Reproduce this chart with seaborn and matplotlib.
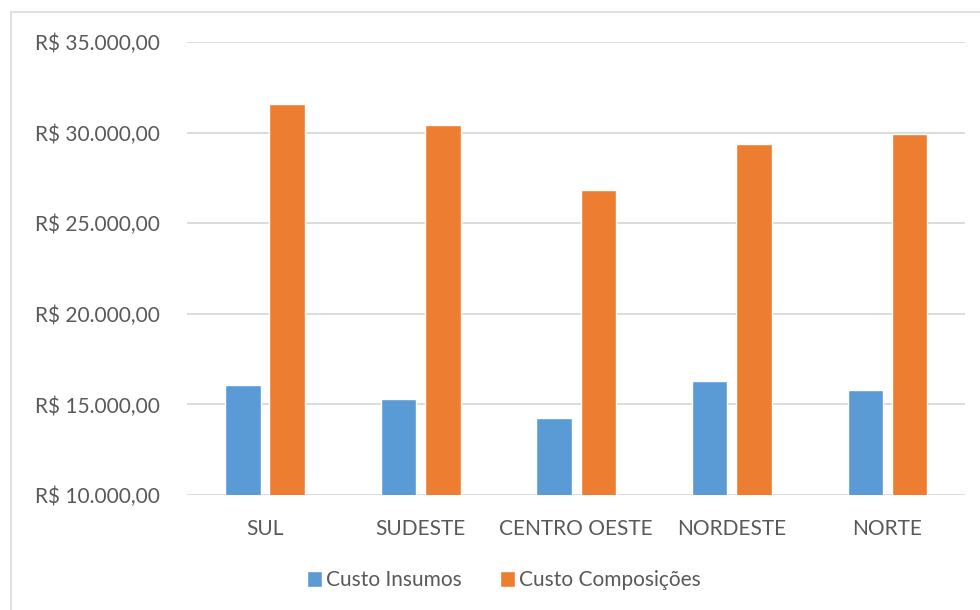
import pandas as pd
import numpy as np
import matplotlib.pyplot as plt
import seaborn as sns
from matplotlib.ticker import FuncFormatter
from matplotlib.patches import Rectangle

# data
regioes = ['SUL', 'SUDESTE', 'CENTRO OESTE', 'NORDESTE', 'NORTE']
custo_insumos = [16090, 15310, 14270, 16290, 15810]
custo_composicoes = [31570, 30410, 26840, 29360, 29930]
series = ['Custo Insumos', 'Custo Composições']
cores = ['#5B9BD5', '#ED7D31']

df = pd.DataFrame({
    'Regiao': regioes * 2,
    'Serie': [series[0]] * len(regioes) + [series[1]] * len(regioes),
    'Valor': custo_insumos + custo_composicoes,
})

sns.set_theme(style="white")
plt.rcParams['font.family'] = ['Lato', 'DejaVu Sans']
texto = '#595959'
fs = 15

fig = plt.figure(figsize=(9.8, 6.1), dpi=100)
ax = fig.add_axes([0.191, 0.1885, 0.794, 0.7425])

sns.barplot(data=df, x='Regiao', y='Valor', hue='Serie', order=regioes,
            hue_order=series, palette=cores, width=0.57, gap=0.2,
            saturation=1, ax=ax)

ax.set_ylim(10000, 35000)
ax.set_yticks(np.arange(10000, 35001, 5000))

def brl(v, pos):
    s = f"{v:,.2f}".replace(',', 'X').replace('.', ',').replace('X', '.')
    return f"R$ {s}"

ax.yaxis.set_major_formatter(FuncFormatter(brl))
ax.yaxis.grid(True, color='#d9d9d9', linewidth=1.3)
ax.set_axisbelow(True)
for s in ax.spines.values():
    s.set_visible(False)
ax.set_xlabel('')
ax.set_ylabel('')
ax.tick_params(axis='y', labelsize=fs, colors=texto, length=0, pad=20)
ax.tick_params(axis='x', labelsize=fs, colors=texto, length=0, pad=17)

ax.legend(loc='upper center', bbox_to_anchor=(0.407, -0.125), ncol=2, frameon=False,
          fontsize=fs, handlelength=0.75, handleheight=0.75, handletextpad=0.2,
          columnspacing=1.8, labelcolor=texto)

fig.patches.append(Rectangle((0.011, -0.01), 1.0, 0.99, transform=fig.transFigure,
                             fill=False, edgecolor='#d9d9d9', linewidth=1.2))

plt.savefig('out.png', dpi=100)
